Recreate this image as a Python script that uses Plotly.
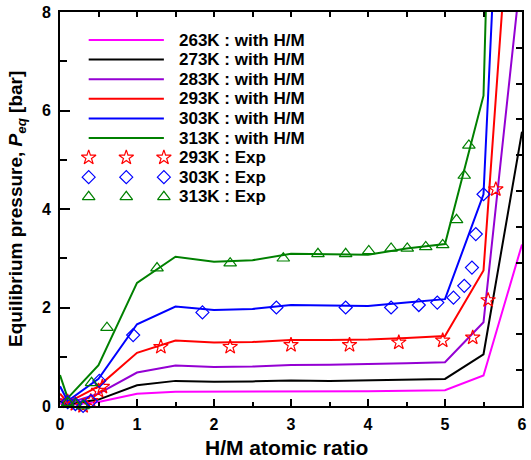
import plotly.graph_objects as go

# ---------------- data ----------------
x_model = [0.0, 0.1, 0.5, 1.0, 1.5, 2.0, 2.5, 3.0, 3.5, 4.0, 4.5, 5.0, 5.5, 6.0]
p_263 = [0.05, 0.02, 0.08, 0.25, 0.29, 0.29, 0.29, 0.30, 0.30, 0.30, 0.31, 0.32, 0.62, 3.28]
p_273 = [0.10, 0.03, 0.13, 0.42, 0.51, 0.49, 0.50, 0.52, 0.51, 0.52, 0.53, 0.55, 1.05, 5.57]
p_283 = [0.15, 0.05, 0.25, 0.68, 0.82, 0.79, 0.80, 0.83, 0.84, 0.85, 0.87, 0.89, 1.70, 9.0]
p_293 = [0.25, 0.07, 0.40, 1.08, 1.33, 1.29, 1.30, 1.34, 1.34, 1.35, 1.38, 1.42, 2.75, 13.7]
p_303 = [0.40, 0.10, 0.55, 1.66, 2.02, 1.95, 1.97, 2.05, 2.04, 2.03, 2.10, 2.17, 4.30, 21.0]
p_313 = [0.63, 0.16, 0.83, 2.50, 3.03, 2.93, 2.96, 3.09, 3.08, 3.07, 3.20, 3.29, 6.30, 34.8]

x_exp293 = [0.1, 0.2, 0.3, 0.4, 0.5, 0.55, 1.31, 2.21, 3.0, 3.76, 4.40, 4.97, 5.36, 5.56, 5.66]
p_exp293 = [0.09, 0.04, 0.0, 0.10, 0.31, 0.39, 1.20, 1.20, 1.24, 1.24, 1.29, 1.33, 1.39, 2.15, 4.40]
x_exp303 = [0.1, 0.2, 0.3, 0.4, 0.51, 0.95, 1.85, 2.81, 3.71, 4.30, 4.66, 4.90, 5.11, 5.25, 5.35, 5.40, 5.50]
p_exp303 = [0.08, 0.04, 0.0, 0.10, 0.51, 1.44, 1.90, 2.00, 2.00, 2.00, 2.05, 2.10, 2.20, 2.44, 2.81, 3.49, 4.30]
x_exp313 = [0.1, 0.2, 0.3, 0.41, 0.61, 1.26, 2.21, 2.90, 3.35, 3.71, 4.01, 4.30, 4.51, 4.75, 4.97, 5.15, 5.25, 5.31]
p_exp313 = [0.07, 0.03, 0.0, 0.47, 1.59, 2.80, 2.90, 3.00, 3.09, 3.09, 3.15, 3.20, 3.20, 3.23, 3.27, 3.78, 4.68, 5.29]

model_names = ["263K : with H/M", "273K : with H/M", "283K : with H/M",
               "293K : with H/M", "303K : with H/M", "313K : with H/M"]
exp_names = ["293K : Exp", "303K : Exp", "313K : Exp"]

# ---------------- styles ----------------
model_series = [p_263, p_273, p_283, p_293, p_303, p_313]
model_colors = ["#ff00ff", "#000000", "#9400d3", "#ff0000", "#0000ff", "#008000"]
exp_series = [(x_exp293, p_exp293), (x_exp303, p_exp303), (x_exp313, p_exp313)]
exp_colors = ["#ff0000", "#0000ff", "#008000"]
exp_symbols = ["star-open", "diamond-open", "triangle-up-open"]
exp_sizes = [11, 10, 11]

W, H = 531, 460
ML, MR, MT, MB = 60, 4, 12, 54
XR, YR = (0, 6), (0, 8)
FONT = "Liberation Sans, Arial, sans-serif"


def px_to_data(px, py):
    pw, ph = W - ML - MR, H - MT - MB
    return (XR[0] + (px - ML) / pw * (XR[1] - XR[0]),
            YR[0] + (H - MB - py) / ph * (YR[1] - YR[0]))


fig = go.Figure()
for ys, c, n in zip(model_series, model_colors, model_names):
    fig.add_trace(go.Scatter(x=x_model, y=ys, mode="lines", name=n,
                             line=dict(color=c, width=2), showlegend=False))
for (xs, ys), c, s, sz, n in zip(exp_series, exp_colors, exp_symbols, exp_sizes, exp_names):
    fig.add_trace(go.Scatter(x=xs, y=ys, mode="markers", name=n, cliponaxis=False,
                             marker=dict(symbol=s, size=sz, color=c, line=dict(color=c, width=1.2)),
                             showlegend=False))

# ---------------- hand-drawn legend (long sample lines, three markers) ----------------
row0, drow = 40, 19.6
lx0, lx1, tx = 89, 165, 178
annotations = []
shapes = []
for i, (c, n) in enumerate(zip(model_colors, model_names)):
    py = row0 + i * drow
    x0, y0 = px_to_data(lx0, py)
    x1, _ = px_to_data(lx1, py)
    shapes.append(dict(type="line", xref="x", yref="y", x0=x0, x1=x1, y0=y0, y1=y0,
                       line=dict(color=c, width=2)))
    tx_d, _ = px_to_data(tx, py)
    annotations.append(dict(x=tx_d, y=y0, xref="x", yref="y", text="<b>%s</b>" % n,
                            showarrow=False, xanchor="left", yanchor="middle",
                            font=dict(family=FONT, size=17, color="black")))
for j, (c, s, sz, n) in enumerate(zip(exp_colors, exp_symbols, exp_sizes, exp_names)):
    py = row0 + (6 + j) * drow
    xs = [px_to_data(p, py)[0] for p in (lx0, (lx0 + lx1) / 2, lx1)]
    y0 = px_to_data(lx0, py)[1]
    fig.add_trace(go.Scatter(x=xs, y=[y0] * 3, mode="markers", showlegend=False,
                             hoverinfo="skip",
                             marker=dict(symbol=s, size=sz, color=c, line=dict(color=c, width=1.2))))
    tx_d, _ = px_to_data(tx, py)
    annotations.append(dict(x=tx_d, y=y0, xref="x", yref="y", text="<b>%s</b>" % n,
                            showarrow=False, xanchor="left", yanchor="middle",
                            font=dict(family=FONT, size=17, color="black")))

# axis titles
annotations.append(dict(x=0.49, y=-0.105, xref="paper", yref="paper", xanchor="center",
                        yanchor="middle", showarrow=False,
                        text="<b>H/M atomic ratio</b>",
                        font=dict(family=FONT, size=21, color="black")))
annotations.append(dict(x=-0.093, y=0.5, xref="paper", yref="paper", xanchor="center",
                        yanchor="middle", showarrow=False, textangle=-90,
                        text="<b>Equilibrium pressure, <i>P</i><sub><i>eq</i></sub> [bar]</b>",
                        font=dict(family=FONT, size=19, color="black")))

fig.update_layout(
    width=W, height=H, margin=dict(l=ML, r=MR, t=MT, b=MB),
    paper_bgcolor="white", plot_bgcolor="white", showlegend=False,
    shapes=shapes, annotations=annotations,
    xaxis=dict(range=list(XR), dtick=1, ticks="inside", ticklen=7, tickwidth=2,
               tickcolor="black", showgrid=False, zeroline=False,
               showline=True, linewidth=2, linecolor="black", mirror=True,
               tickfont=dict(family=FONT, size=16, color="black", weight="bold"),
               ticklabelstandoff=3,
               minor=dict(dtick=0.5, ticks="inside", ticklen=4, tickwidth=2, tickcolor="black")),
    yaxis=dict(range=list(YR), dtick=2, ticks="inside", ticklen=10, tickwidth=2,
               tickcolor="black", showgrid=False, zeroline=False,
               showline=True, linewidth=2, linecolor="black", mirror=True,
               tickfont=dict(family=FONT, size=16, color="black", weight="bold"),
               ticklabelstandoff=4,
               minor=dict(dtick=1, ticks="inside", ticklen=7, tickwidth=2, tickcolor="black")),
    xaxis2=dict(range=list(XR), overlaying="x", side="top", dtick=0.5, ticks="inside",
                ticklen=5, tickwidth=2, tickcolor="black", showticklabels=False,
                showgrid=False, zeroline=False, showline=False),
    yaxis2=dict(range=[0, 11], overlaying="y", side="right", dtick=1, ticks="inside",
                ticklen=6, tickwidth=2, tickcolor="black", showticklabels=False,
                showgrid=False, zeroline=False, showline=False),
)
# invisible trace to activate the mirrored tick axes
fig.add_trace(go.Scatter(x=[None], y=[None], xaxis="x2", yaxis="y2", showlegend=False,
                         hoverinfo="skip"))

fig.write_html("out.html")
